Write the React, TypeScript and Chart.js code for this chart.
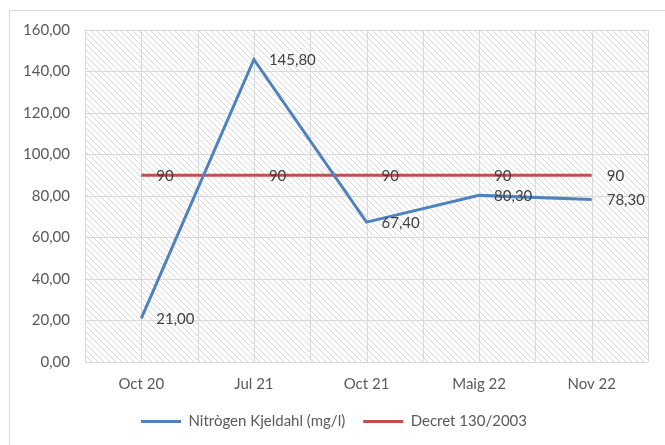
import React, { useEffect, useRef } from "react";
import { Chart, registerables } from "chart.js";

Chart.register(...registerables);

const categories = ["Oct 20", "Jul 21", "Oct 21", "Maig 22", "Nov 22"];
const nitrogenValues = [21.0, 145.8, 67.4, 80.3, 78.3];
const decretValues = [90, 90, 90, 90, 90];
const nitrogenLabel = "Nitrògen Kjeldahl (mg/l)";
const decretLabel = "Decret 130/2003";
const yMin = 0;
const yMax = 160;
const yStep = 20;

const FONT = "Lato, 'Open Sans', sans-serif";
const TEXT = "#595959";
const GRID = "#d9d9d9";
const FS = 15;

const fmt2 = (v: number) => v.toFixed(2).replace(".", ",");

function makeHatch(ctx: CanvasRenderingContext2D) {
  const s = 6;
  const c = document.createElement("canvas");
  c.width = s;
  c.height = s;
  const g = c.getContext("2d")!;
  g.fillStyle = "#ffffff";
  g.fillRect(0, 0, s, s);
  g.strokeStyle = "#d9d9d9";
  g.lineWidth = 1;
  g.beginPath();
  g.moveTo(-1, -1);
  g.lineTo(s + 1, s + 1);
  g.moveTo(-1, s - 1);
  g.lineTo(1, s + 1);
  g.moveTo(s - 1, -1);
  g.lineTo(s + 1, 1);
  g.stroke();
  return ctx.createPattern(c, "repeat");
}

const backgroundPlugin = {
  id: "bgHatch",
  beforeDraw(chart: any) {
    const { ctx, chartArea: a } = chart;
    ctx.save();
    ctx.fillStyle = "#ffffff";
    ctx.fillRect(0, 0, chart.width, chart.height);
    ctx.strokeStyle = GRID;
    ctx.lineWidth = 1;
    ctx.strokeRect(9.5, 10.5, 800, 600);
    const p = makeHatch(ctx);
    if (p) {
      ctx.fillStyle = p;
      ctx.fillRect(a.left, a.top, a.right - a.left, a.bottom - a.top);
    }
    ctx.restore();
  },
  beforeDatasetsDraw(chart: any) {
    const { ctx, chartArea: a } = chart;
    const xs = chart.scales.x;
    const n = categories.length;
    const band = (a.right - a.left) / n;
    ctx.save();
    ctx.strokeStyle = GRID;
    ctx.lineWidth = 1;
    ctx.beginPath();
    for (let i = 0; i < n; i++) {
      const cx = xs.getPixelForValue(i);
      const xs2 = [cx - band / 2, cx];
      if (i === n - 1) xs2.push(cx + band / 2);
      for (const x of xs2) {
        const px = Math.round(x) + 0.5;
        ctx.moveTo(px, a.top);
        ctx.lineTo(px, a.bottom);
      }
    }
    ctx.stroke();
    ctx.restore();
  },
};

const labelPlugin = {
  id: "pointLabels",
  afterDatasetsDraw(chart: any) {
    const { ctx } = chart;
    ctx.save();
    ctx.font = `${FS}px ${FONT}`;
    ctx.fillStyle = "#404040";
    ctx.textAlign = "left";
    ctx.textBaseline = "middle";
    chart.data.datasets.forEach((ds: any, di: number) => {
      const meta = chart.getDatasetMeta(di);
      meta.data.forEach((pt: any, i: number) => {
        const v = ds.data[i] as number;
        const txt = di === 0 ? fmt2(v) : String(v);
        ctx.fillText(txt, pt.x + 15, pt.y + 1);
      });
    });
    ctx.restore();
  },
};

export default function App() {
  const ref = useRef<HTMLCanvasElement>(null);
  useEffect(() => {
    if (!ref.current) return;
    const chart = new Chart(ref.current, {
      type: "line",
      data: {
        labels: categories,
        datasets: [
          {
            label: nitrogenLabel,
            data: nitrogenValues,
            borderColor: "#4F81BD",
            backgroundColor: "#4F81BD",
            borderWidth: 3,
            pointRadius: 0,
            tension: 0,
            fill: false,
          },
          {
            label: decretLabel,
            data: decretValues,
            borderColor: "#C0504D",
            backgroundColor: "#C0504D",
            borderWidth: 3,
            pointRadius: 0,
            tension: 0,
            fill: false,
          },
        ],
      },
      options: {
        responsive: false,
        animation: false,
        layout: { padding: { left: 20, right: 17, top: 30, bottom: 6 } },
        plugins: {
          tooltip: { enabled: false },
          legend: {
            position: "bottom",
            labels: {
              usePointStyle: true,
              pointStyle: "line",
              pointStyleWidth: 40,
              boxHeight: FS,
              padding: 18,
              color: TEXT,
              font: { family: FONT, size: FS },
            },
          },
        },
        scales: {
          x: {
            type: "category",
            offset: true,
            grid: { display: false, drawTicks: false },
            border: { display: false },
            ticks: {
              color: TEXT,
              font: { family: FONT, size: FS },
              padding: 13,
              maxRotation: 0,
            },
            afterFit(scale: any) {
              scale.height = 34;
            },
          },
          y: {
            min: yMin,
            max: yMax,
            grid: { color: GRID, drawTicks: false },
            border: { display: false },
            ticks: {
              stepSize: yStep,
              color: TEXT,
              font: { family: FONT, size: FS },
              padding: 15,
              callback: (v: any) => fmt2(Number(v)),
            },
            afterFit(scale: any) {
              scale.width = 65;
            },
          },
        },
      },
      plugins: [backgroundPlugin, labelPlugin],
    });
    return () => chart.destroy();
  }, []);
  return (
    <div style={{ position: "fixed", left: 0, top: 0, width: 665, height: 445, background: "#fff" }}>
      <canvas ref={ref} width={665} height={445} style={{ display: "block" }} />
    </div>
  );
}
